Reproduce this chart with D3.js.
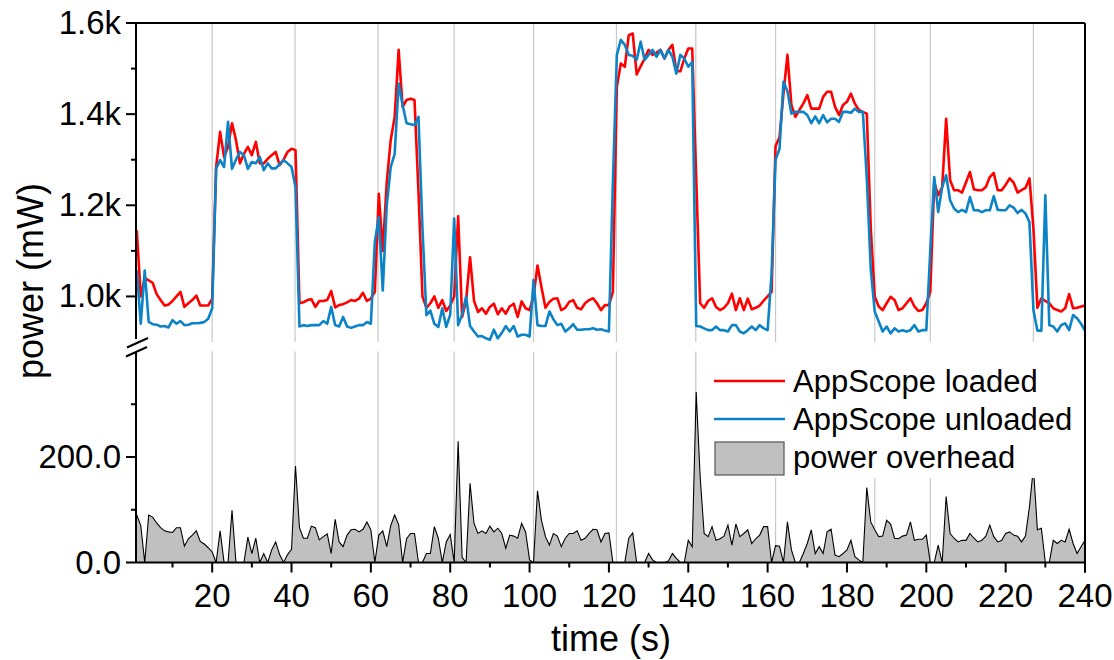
<!DOCTYPE html>
<html>
<head>
<meta charset="utf-8">
<script src="https://cdn.jsdelivr.net/npm/d3@7"></script>
<style>
  html, body { margin: 0; padding: 0; background: #fff; }
  svg { display: block; font-family: "Liberation Sans", Arial, sans-serif; }
</style>
</head>
<body>
<svg id="chart" width="1114" height="660"></svg>
<script>
// ---------- data ----------
const seconds = d3.range(1, 241); // one sample per second, t = 1..240

const loaded = [
  1145,1000,1040,1035,1030,1005,992,980,982,990,1000,1010,977,985,992,1002,980,980,980,995,
  1284,1361,1306,1328,1380,1343,1292,1313,1328,1310,1339,1292,1292,1302,1310,1317,1288,1300,1317,1324,
  1321,985,987,992,994,977,990,990,992,1012,976,981,983,987,992,990,995,1008,990,995,
  1010,1225,1100,1250,1343,1394,1541,1416,1431,1434,1431,1230,1000,975,985,1000,975,992,968,980,
  1000,1176,955,990,1086,990,966,974,962,977,984,961,974,962,978,984,955,989,974,970,
  1000,1068,1020,975,988,995,996,970,975,988,992,975,972,985,992,996,985,970,981,981,
  1010,1460,1511,1504,1573,1577,1487,1505,1522,1541,1530,1535,1541,1522,1541,1552,1494,1494,1522,1544,
  1544,1260,985,975,990,996,977,970,975,985,1006,970,996,970,995,972,975,980,991,1000,
  1010,1330,1349,1445,1530,1420,1394,1409,1423,1442,1412,1412,1412,1438,1449,1449,1416,1398,1420,1427,
  1445,1423,1409,1405,1401,1150,1000,978,970,985,999,992,970,974,985,996,978,968,970,985,
  1010,1250,1222,1240,1390,1255,1233,1233,1228,1250,1273,1235,1233,1233,1240,1262,1271,1233,1233,1245,
  1259,1250,1228,1233,1238,1259,1150,975,996,990,985,974,970,967,974,1005,974,975,978,980
];

const unloaded = [
  1057,940,1057,944,939,938,934,935,932,948,940,946,937,938,941,941,942,944,951,974,
  1281,1299,1284,1383,1280,1300,1317,1310,1280,1295,1292,1306,1277,1292,1281,1281,1290,1299,1292,1284,
  1240,934,937,935,937,937,937,946,940,977,937,934,955,934,931,934,937,937,944,940,
  1120,1174,1013,1200,1284,1313,1467,1420,1380,1378,1376,1394,1150,959,969,940,933,974,933,960,
  1171,937,960,1000,935,923,912,913,908,905,927,908,920,935,923,935,912,916,916,912,
  1036,937,935,935,967,950,937,940,923,930,939,927,927,928,928,930,927,928,925,923,
  1250,1530,1563,1552,1530,1528,1519,1559,1519,1530,1541,1526,1541,1522,1541,1526,1489,1530,1522,1504,
  1515,935,934,930,926,926,934,926,926,923,937,937,923,919,926,934,926,937,930,926,
  1050,1300,1324,1471,1450,1401,1405,1405,1405,1398,1380,1395,1380,1398,1382,1390,1390,1383,1405,1405,
  1403,1412,1405,1405,1260,1060,967,945,923,934,919,930,923,926,923,926,937,923,926,926,
  1100,1262,1185,1240,1266,1211,1193,1185,1190,1185,1218,1189,1189,1185,1189,1189,1220,1190,1189,1189,
  1200,1195,1183,1190,1182,1163,970,925,925,1222,937,934,923,937,941,926,959,952,940,925
];

const overhead = [
  90,70,0,90,86,75,66,60,58,57,66,66,31,45,52,60,40,35,28,20,
  0,60,0,0,99,0,0,0,48,17,46,0,17,0,24,39,15,0,15,25,
  183,66,46,46,69,66,43,49,54,17,82,39,30,52,62,63,58,63,77,62,
  0,52,60,30,70,90,72,0,45,55,55,0,0,17,17,68,46,0,39,53,
  0,230,10,0,150,74,55,60,55,69,58,65,55,27,52,50,46,74,58,5,
  0,136,80,49,33,55,50,30,46,55,55,60,42,46,55,63,62,39,55,56,
  0,0,0,0,46,56,0,0,0,17,5,0,0,0,3,17,8,0,0,42,
  30,323,162,55,49,68,42,45,50,71,33,73,49,55,62,36,45,52,68,68,
  0,32,31,0,77,24,0,0,17,36,62,17,30,17,58,63,14,11,17,24,
  42,11,5,0,142,77,62,49,50,80,73,46,45,50,52,77,42,44,44,52,
  0,0,33,0,125,55,46,39,42,42,55,46,39,42,50,71,49,39,42,55,
  58,52,50,39,50,106,180,62,65,0,0,42,36,42,39,63,36,17,30,42
];

const phaseBoundaries = [20, 40.9, 61.8, 81, 101, 121.9, 141.9, 162, 187, 201, 227];

const xMajorTicks = [20, 40, 60, 80, 100, 120, 140, 160, 180, 200, 220, 240];
const xMinorTicks = [10, 30, 50, 70, 90, 110, 130, 150, 170, 190, 210, 230];
const yTopMajorTicks = [1000, 1200, 1400, 1600];
const yTopMajorLabels = ["1.0k", "1.2k", "1.4k", "1.6k"];
const yTopMinorTicks = [1100, 1300, 1500];
const yBotMajorTicks = [0, 200];
const yBotMajorLabels = ["0.0", "200.0"];
const yBotMinorTicks = [100, 300];

const seriesNames = ["AppScope loaded", "AppScope unloaded", "power overhead"];
const xTitle = "time (s)";
const yTitle = "power (mW)";

// ---------- layout ----------
const L = 136, R = 1085, TOP = 23, UPB = 342, LOT = 351.5, BOT = 562.5;
const RED = "#ff0000", BLUE = "#0d83c7", GRAY = "#c0c0c0";

const svg = d3.select("#chart");
const x = d3.scaleLinear().domain([0.8, 240]).range([L, R]);
const yTop = d3.scaleLinear().domain([900, 1600]).range([UPB, TOP]);
const yBot = d3.scaleLinear().domain([0, 400]).range([BOT, LOT]);

const defs = svg.append("defs");
defs.append("clipPath").attr("id", "clipTop")
  .append("rect").attr("x", L).attr("y", TOP).attr("width", R - L).attr("height", UPB - TOP);
defs.append("clipPath").attr("id", "clipBot")
  .append("rect").attr("x", L).attr("y", LOT - 2).attr("width", R - L).attr("height", BOT - LOT + 2);

// phase boundary lines
const grid = svg.append("g").attr("stroke", "#c8c8c8").attr("stroke-width", 1.2);
grid.selectAll("line.top").data(phaseBoundaries).join("line").attr("class", "top")
  .attr("x1", d => x(d)).attr("x2", d => x(d)).attr("y1", TOP).attr("y2", UPB);
grid.selectAll("line.bot").data(phaseBoundaries).join("line").attr("class", "bot")
  .attr("x1", d => x(d)).attr("x2", d => x(d)).attr("y1", LOT).attr("y2", BOT);

// overhead area
const ovData = seconds.map((t, i) => ({ t, v: overhead[i] }));
const gBot = svg.append("g").attr("clip-path", "url(#clipBot)");
gBot.append("path").datum(ovData)
  .attr("fill", GRAY)
  .attr("d", d3.area().x(d => x(d.t)).y0(yBot(0)).y1(d => yBot(d.v)));
gBot.append("path").datum(ovData)
  .attr("fill", "none").attr("stroke", "#000").attr("stroke-width", 1.1)
  .attr("d", d3.line().x(d => x(d.t)).y(d => yBot(d.v)));

// power lines
const gTop = svg.append("g").attr("clip-path", "url(#clipTop)");
const line = d3.line().x(d => x(d.t)).y(d => yTop(d.v));
gTop.append("path").datum(seconds.map((t, i) => ({ t, v: loaded[i] })))
  .attr("fill", "none").attr("stroke", RED).attr("stroke-width", 2.6)
  .attr("stroke-linejoin", "round").attr("d", line);
gTop.append("path").datum(seconds.map((t, i) => ({ t, v: unloaded[i] })))
  .attr("fill", "none").attr("stroke", BLUE).attr("stroke-width", 2.6)
  .attr("stroke-linejoin", "round").attr("d", line);

// legend
const lg = svg.append("g");
lg.append("rect").attr("x", 706).attr("y", LOT).attr("width", 376).attr("height", 478 - LOT).attr("fill", "#fff");
lg.append("line").attr("x1", 714).attr("x2", 785).attr("y1", 381).attr("y2", 381).attr("stroke", RED).attr("stroke-width", 2.6);
lg.append("line").attr("x1", 714).attr("x2", 785).attr("y1", 419).attr("y2", 419).attr("stroke", BLUE).attr("stroke-width", 2.6);
lg.append("rect").attr("x", 715).attr("y", 442).attr("width", 69).attr("height", 33)
  .attr("fill", GRAY).attr("stroke", "#555").attr("stroke-width", 1.2);
lg.selectAll("text").data(seriesNames).join("text")
  .attr("x", 793).attr("y", (d, i) => [392, 430, 468][i])
  .attr("font-size", 31).attr("fill", "#000").text(d => d);

// axes frame
const ax = svg.append("g").attr("stroke", "#000").attr("stroke-width", 2).attr("fill", "none");
ax.append("line").attr("x1", L).attr("x2", R).attr("y1", TOP).attr("y2", TOP);
ax.append("line").attr("x1", R).attr("x2", R).attr("y1", TOP).attr("y2", BOT + 10);
ax.append("line").attr("x1", L).attr("x2", R).attr("y1", BOT).attr("y2", BOT);
ax.append("line").attr("x1", L).attr("x2", L).attr("y1", TOP).attr("y2", 339);
ax.append("line").attr("x1", L).attr("x2", L).attr("y1", 352).attr("y2", BOT);
// break marks
ax.append("line").attr("x1", 127).attr("y1", 347.5).attr("x2", 148).attr("y2", 338);
ax.append("line").attr("x1", 126).attr("y1", 356.5).attr("x2", 147).attr("y2", 347);

// y ticks upper
ax.selectAll("line.ytm").data(yTopMajorTicks).join("line").attr("class", "ytm")
  .attr("x1", L - 10).attr("x2", L).attr("y1", d => yTop(d)).attr("y2", d => yTop(d));
ax.selectAll("line.ytn").data(yTopMinorTicks).join("line").attr("class", "ytn")
  .attr("x1", L - 5).attr("x2", L).attr("y1", d => yTop(d)).attr("y2", d => yTop(d));
ax.selectAll("line.ybm").data(yBotMajorTicks).join("line").attr("class", "ybm")
  .attr("x1", L - 10).attr("x2", L).attr("y1", d => yBot(d)).attr("y2", d => yBot(d));
ax.selectAll("line.ybn").data(yBotMinorTicks).join("line").attr("class", "ybn")
  .attr("x1", L - 5).attr("x2", L).attr("y1", d => yBot(d)).attr("y2", d => yBot(d));
ax.selectAll("line.xm").data(xMajorTicks).join("line").attr("class", "xm")
  .attr("x1", d => x(d)).attr("x2", d => x(d)).attr("y1", BOT).attr("y2", BOT + 10);
ax.selectAll("line.xn").data(xMinorTicks).join("line").attr("class", "xn")
  .attr("x1", d => x(d)).attr("x2", d => x(d)).attr("y1", BOT).attr("y2", BOT + 5);

// tick labels
const tl = svg.append("g").attr("font-size", 33).attr("fill", "#000");
tl.selectAll("text.yt").data(yTopMajorTicks).join("text").attr("class", "yt")
  .attr("x", 121).attr("y", d => yTop(d) + 11).attr("text-anchor", "end")
  .text((d, i) => yTopMajorLabels[i]);
tl.selectAll("text.yb").data(yBotMajorTicks).join("text").attr("class", "yb")
  .attr("x", 121).attr("y", d => yBot(d) + 11).attr("text-anchor", "end")
  .text((d, i) => yBotMajorLabels[i]);
tl.selectAll("text.xt").data(xMajorTicks).join("text").attr("class", "xt")
  .attr("x", d => x(d)).attr("y", 607).attr("text-anchor", "middle")
  .text(d => d);

// axis titles
svg.append("text").attr("x", 611).attr("y", 651).attr("text-anchor", "middle")
  .attr("font-size", 36).text(xTitle);
svg.append("text").attr("transform", "translate(43,281) rotate(-90)").attr("text-anchor", "middle")
  .attr("font-size", 36).text(yTitle);
</script>
</body>
</html>
